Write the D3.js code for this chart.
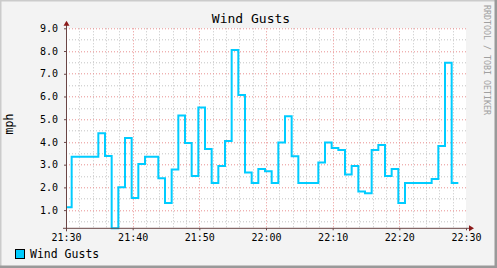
<!DOCTYPE html>
<html>
<head>
<meta charset="utf-8">
<script src="https://cdn.jsdelivr.net/npm/d3@7"></script>
<style>
  body { margin: 0; background: #f3f3f3; }
  text { font-family: "DejaVu Sans Mono", monospace; }
</style>
</head>
<body>
<div id="chart-area"></div>
<script>
// one gust reading per minute, first interval ends 21:30:51
const firstEnd = new Date(2024, 0, 1, 21, 30, 51);
const stepMs = 60 * 1000;
const gusts = [
  1.13, 3.35, 3.35, 3.35, 3.35, 4.38, 3.38, 0.20, 2.01, 4.17,
  1.53, 3.03, 3.35, 3.35, 2.40, 1.31, 2.79, 5.16, 3.95, 2.50,
  5.52, 3.69, 2.19, 2.94, 4.04, 8.04, 6.07, 2.66, 2.19, 2.81,
  2.71, 2.19, 3.98, 5.13, 3.37, 2.19, 2.19, 2.19, 3.10, 3.98,
  3.73, 3.64, 2.57, 2.94, 1.82, 1.74, 3.64, 3.86, 2.50, 2.81,
  1.31, 2.19, 2.19, 2.19, 2.19, 2.37, 3.82, 7.48, 2.19
];
const yTicks = [1, 2, 3, 4, 5, 6, 7, 8, 9];
const yMinor = [0.5, 1.5, 2.5, 3.5, 4.5, 5.5, 6.5, 7.5, 8.5];
const timeStart = new Date(2024, 0, 1, 21, 30);
const timeEnd = new Date(2024, 0, 1, 22, 30);

const W = 497, H = 268;
const margin = { left: 66, right: 31, top: 28.3, bottom: 39.7 };
const width = W - margin.left - margin.right;
const height = H - margin.top - margin.bottom;

const svg = d3.select('#chart-area').append('svg')
  .attr('width', W)
  .attr('height', H);

// frame (rrdtool shading)
svg.append('rect').attr('width', W).attr('height', H).attr('fill', '#f3f3f3');
svg.append('path').attr('d', `M0,${H} V0 H${W}`).attr('stroke', '#cbcbcb').attr('stroke-width', 3).attr('fill', 'none');
svg.append('path').attr('d', `M0,${H - 1} H${W - 1} V0`).attr('stroke', '#999').attr('stroke-width', 3).attr('fill', 'none');

const x = d3.scaleTime().domain([timeStart, timeEnd]).range([0, width]);
const y = d3.scaleLinear().domain([d3.min(gusts), 9]).range([height, 0]);

const chart = svg.append('g')
  .attr('transform', `translate(${margin.left},${margin.top})`);

chart.append('rect')
  .attr('width', width).attr('height', height)
  .attr('fill', '#fff');

// minor grid
const xMinor = d3.timeMinute.every(2).range(timeStart, timeEnd);
chart.append('g').selectAll('line').data(xMinor.filter(d => d.getMinutes() % 10 !== 0))
  .enter().append('line')
  .attr('x1', d => Math.round(x(d)) + 0.5).attr('x2', d => Math.round(x(d)) + 0.5)
  .attr('y1', 0).attr('y2', height)
  .attr('stroke', '#c4c4c4').attr('stroke-dasharray', '1,2');
chart.append('g').selectAll('line').data(yMinor)
  .enter().append('line')
  .attr('x1', 0).attr('x2', width)
  .attr('y1', d => Math.round(y(d)) + 0.5).attr('y2', d => Math.round(y(d)) + 0.5)
  .attr('stroke', '#c4c4c4').attr('stroke-dasharray', '1,2');

// major grid
const xMajor = d3.timeMinute.every(10).range(timeStart, d3.timeMinute.offset(timeEnd, 1));
chart.append('g').selectAll('line').data(xMajor.slice(1, -1))
  .enter().append('line')
  .attr('x1', d => Math.round(x(d)) + 0.5).attr('x2', d => Math.round(x(d)) + 0.5)
  .attr('y1', 0).attr('y2', height)
  .attr('stroke', '#e89090').attr('stroke-dasharray', '1,2');
chart.append('g').selectAll('line').data(yTicks)
  .enter().append('line')
  .attr('x1', 0).attr('x2', width)
  .attr('y1', d => Math.round(y(d)) + 0.5).attr('y2', d => Math.round(y(d)) + 0.5)
  .attr('stroke', '#e89090').attr('stroke-dasharray', '1,2');

// data as steps: each value covers the minute ending at its timestamp
const pts = gusts.map((v, i) => ({ t: new Date(+firstEnd + (i - 1) * stepMs), v: v }));
pts.push({ t: new Date(+firstEnd + (gusts.length - 1) * stepMs), v: gusts[gusts.length - 1] });

svg.append('clipPath').attr('id', 'clip')
  .append('rect').attr('x', 0).attr('y', -2).attr('width', width).attr('height', height + 4);

const line = d3.line()
  .x(d => x(d.t))
  .y(d => y(d.v))
  .curve(d3.curveStepAfter);

chart.append('path')
  .datum(pts)
  .attr('clip-path', 'url(#clip)')
  .attr('d', line)
  .attr('fill', 'none')
  .attr('stroke', '#00ccff')
  .attr('stroke-width', 2);

// axes
const xAxis = chart.append('g')
  .attr('transform', `translate(0,${height})`)
  .call(d3.axisBottom(x).tickValues(xMajor).tickFormat(d3.timeFormat('%H:%M')).tickSize(2));
xAxis.select('.domain').remove();
xAxis.selectAll('line').attr('stroke', '#6a4545');
xAxis.selectAll('text').attr('y', 12.5).attr('dy', 0)
  .attr('font-size', '10px').attr('fill', '#000');

const yAxis = chart.append('g')
  .call(d3.axisLeft(y).tickValues(yTicks).tickFormat(d3.format('.1f')).tickSize(2).tickPadding(6));
yAxis.select('.domain').remove();
yAxis.selectAll('line').attr('stroke', '#6a4545');
yAxis.selectAll('text').attr('font-size', '10px').attr('fill', '#000');

chart.append('line')
  .attr('x1', 0.5).attr('x2', 0.5).attr('y1', -4).attr('y2', height + 3)
  .attr('stroke', '#6a4545');
chart.append('line')
  .attr('x1', -3).attr('x2', width + 4).attr('y1', height).attr('y2', height)
  .attr('stroke', '#6a4545');

// arrows
chart.append('path')
  .attr('d', `M${0.5 - 3},${-2.5} L${0.5 + 3},${-2.5} L0.5,${-7.5} Z`)
  .attr('fill', '#8b1a1a');
chart.append('path')
  .attr('d', `M${width + 3},${height - 3} L${width + 3},${height + 3} L${width + 8},${height} Z`)
  .attr('fill', '#8b1a1a');

// title and labels
svg.append('text')
  .attr('x', 251).attr('y', 23)
  .attr('text-anchor', 'middle')
  .attr('font-size', '13px')
  .text('Wind Gusts');

svg.append('text')
  .attr('transform', 'translate(13,124) rotate(-90)')
  .attr('text-anchor', 'middle')
  .attr('font-size', '11.5px')
  .text('mph');

svg.append('text')
  .attr('transform', 'translate(484,5) rotate(90)')
  .attr('font-size', '8.3px')
  .attr('fill', '#a0a0a0')
  .text('RRDTOOL / TOBI OETIKER');

// legend
svg.append('rect')
  .attr('x', 15.5).attr('y', 249.5).attr('width', 9).attr('height', 9)
  .attr('fill', '#00ccff').attr('stroke', '#000');
svg.append('text')
  .attr('x', 30).attr('y', 258)
  .attr('font-size', '11.5px')
  .text('Wind Gusts');
</script>
</body>
</html>
